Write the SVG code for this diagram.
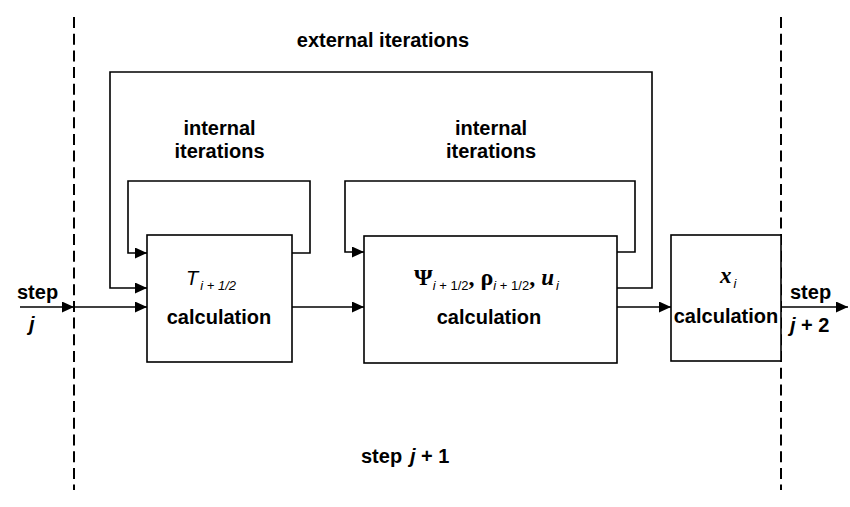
<svg xmlns="http://www.w3.org/2000/svg" width="850" height="507" viewBox="0 0 850 507">
<defs>
<marker id="ah" markerUnits="userSpaceOnUse" markerWidth="12" markerHeight="11" refX="12" refY="5.5" orient="auto">
<path d="M0,0 L12,5.5 L0,11 z" fill="#000"/>
</marker>
<style>
.box{fill:#fff;stroke:#000;stroke-width:1.6}
.ln{fill:none;stroke:#000;stroke-width:1.6}
.dash{fill:none;stroke:#000;stroke-width:2;stroke-dasharray:11 5.7}
.lbl{font-family:"Liberation Sans",Arial,sans-serif;font-weight:bold;font-size:20px;fill:#000}
.gk{font-family:"Liberation Serif","Times New Roman",serif;font-weight:bold;font-size:24px}
.gki{font-family:"Liberation Serif","Times New Roman",serif;font-weight:bold;font-style:italic;font-size:23px}
.sub{font-family:"Liberation Sans",Arial,sans-serif;font-weight:normal;font-size:13px}
.it{font-style:italic}
</style>
</defs>
<rect width="850" height="507" fill="#fff"/>
<g id="separators">
<line class="dash" x1="74" y1="17" x2="74" y2="490"/>
<line class="dash" x1="781" y1="17" x2="781" y2="490"/>
</g>
<g id="connectors">
<line class="ln" x1="20" y1="307" x2="74" y2="307" marker-end="url(#ah)"/>
<line class="ln" x1="74" y1="307" x2="147" y2="307" marker-end="url(#ah)"/>
<line class="ln" x1="292" y1="307" x2="364" y2="307" marker-end="url(#ah)"/>
<line class="ln" x1="617" y1="307" x2="671" y2="307" marker-end="url(#ah)"/>
<line class="ln" x1="781" y1="307" x2="848" y2="307" marker-end="url(#ah)"/>
<polyline class="ln" points="292,253 310,253 310,181 128,181 128,253 147,253" marker-end="url(#ah)"/>
<polyline class="ln" points="617,252 635,252 635,181 345,181 345,252 364,252" marker-end="url(#ah)"/>
<polyline class="ln" points="617,288 652,288 652,72 110,72 110,288 147,288" marker-end="url(#ah)"/>
</g>
<g id="node-T">
<rect class="box" x="147" y="235" width="145" height="127"/>
<text x="186" y="285" font-family="Liberation Sans,Arial,sans-serif" font-size="20" font-style="italic">T<tspan class="sub" dx="2" dy="5"><tspan class="it">i</tspan> + 1/2</tspan></text>
<text class="lbl" x="219" y="324" text-anchor="middle">calculation</text>
</g>
<g id="node-psi">
<rect class="box" x="364" y="236" width="253" height="127"/>
<text x="414" y="285"><tspan class="gk">Ψ</tspan><tspan class="sub" dy="5"><tspan class="it">i</tspan> + 1/2</tspan><tspan class="gk" dy="-5">, ρ</tspan><tspan class="sub" dy="5"><tspan class="it">i</tspan> + 1/2</tspan><tspan class="gk" dy="-5">, </tspan><tspan class="gki">u</tspan><tspan class="sub it" dx="2" dy="5">i</tspan></text>
<text class="lbl" x="489" y="324" text-anchor="middle">calculation</text>
</g>
<g id="node-x">
<rect class="box" x="671" y="235" width="110" height="126"/>
<text x="720" y="283"><tspan class="gki">x</tspan><tspan class="sub it" dx="2" dy="5">i</tspan></text>
<text class="lbl" x="726" y="323" text-anchor="middle">calculation</text>
</g>
<g id="labels">
<text class="lbl" x="383" y="47" text-anchor="middle">external iterations</text>
<text class="lbl" x="219.5" y="135" text-anchor="middle">internal</text>
<text class="lbl" x="219.5" y="158" text-anchor="middle">iterations</text>
<text class="lbl" x="491" y="135" text-anchor="middle">internal</text>
<text class="lbl" x="491" y="158" text-anchor="middle">iterations</text>
<text class="lbl" x="17" y="299">step</text>
<text class="lbl" x="29" y="331"><tspan class="it">j</tspan></text>
<text class="lbl" x="790" y="299">step</text>
<text class="lbl" x="790" y="332"><tspan class="it">j</tspan> + 2</text>
<text class="lbl" x="361" y="463">step</text>
<text class="lbl" x="410" y="463"><tspan class="it">j</tspan> + 1</text>
</g>
</svg>
